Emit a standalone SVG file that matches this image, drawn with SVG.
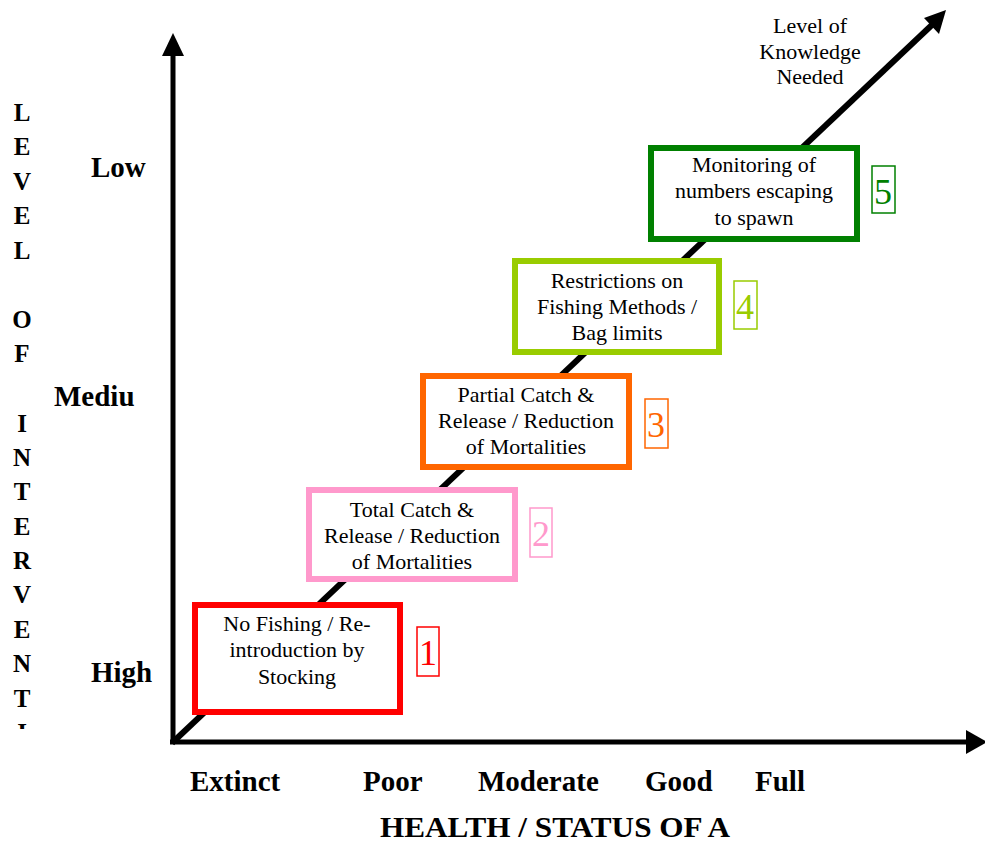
<svg xmlns="http://www.w3.org/2000/svg" width="985" height="842" viewBox="0 0 985 842">
  <style>
    .axis { stroke: #000; stroke-width: 5; fill: none; }
    .head { fill: #000; }
    .ylet { font-family: "Liberation Serif", "Times New Roman", serif; font-weight: bold; font-size: 25px; text-anchor: middle; fill: #000; }
    .tick { font-family: "Liberation Serif", "Times New Roman", serif; font-weight: bold; font-size: 29px; fill: #000; }
    .title { font-family: "Liberation Serif", "Times New Roman", serif; font-weight: bold; font-size: 29px; fill: #000; }
    .box { fill: #fff; stroke-width: 6; }
    .lbl { font-family: "Liberation Serif", "Times New Roman", serif; font-size: 22px; text-anchor: middle; fill: #000; }
    .num { font-family: "Liberation Serif", "Times New Roman", serif; font-size: 36px; text-anchor: middle; }
    .numbox { fill: none; stroke-width: 1.5; }
  </style>
  <defs>
    <clipPath id="yclip">
      <rect x="0" y="0" width="60" height="729"/>
    </clipPath>
  </defs>

  <!-- vertical axis title, one letter per line -->
  <g id="y-title" clip-path="url(#yclip)">
    <text class="ylet" x="22" y="121">L</text>
    <text class="ylet" x="22" y="155">E</text>
    <text class="ylet" x="22" y="190">V</text>
    <text class="ylet" x="22" y="224">E</text>
    <text class="ylet" x="22" y="259">L</text>
    <text class="ylet" x="22" y="328">O</text>
    <text class="ylet" x="22" y="362">F</text>
    <text class="ylet" x="22" y="432">I</text>
    <text class="ylet" x="22" y="466">N</text>
    <text class="ylet" x="22" y="500">T</text>
    <text class="ylet" x="22" y="535">E</text>
    <text class="ylet" x="22" y="569">R</text>
    <text class="ylet" x="22" y="603">V</text>
    <text class="ylet" x="22" y="638">E</text>
    <text class="ylet" x="22" y="672">N</text>
    <text class="ylet" x="22" y="707">T</text>
    <text class="ylet" x="22" y="741">I</text>
  </g>

  <!-- vertical axis levels -->
  <g id="y-ticks">
    <text class="tick" x="91" y="177">Low</text>
    <text class="tick" x="54" y="406">Mediu</text>
    <text class="tick" x="91" y="682">High</text>
  </g>

  <!-- horizontal axis levels and title -->
  <g id="x-ticks">
    <text class="tick" x="190" y="791">Extinct</text>
    <text class="tick" x="363" y="791">Poor</text>
    <text class="tick" x="478" y="791">Moderate</text>
    <text class="tick" x="645" y="791">Good</text>
    <text class="tick" x="755" y="791">Full</text>
    <text class="title" x="380" y="837" textLength="350" lengthAdjust="spacingAndGlyphs">HEALTH / STATUS OF A</text>
  </g>

  <!-- axes and the diagonal knowledge arrow -->
  <g id="connectors">
    <line class="axis" x1="173" y1="744" x2="173" y2="52"/>
    <polygon class="head" points="173,33 162,56 184,56"/>
    <line class="axis" x1="170" y1="742" x2="968" y2="742"/>
    <polygon class="head" points="987,742 966,730 966,754"/>
    <line class="axis" x1="172" y1="743" x2="934" y2="23" style="stroke-width:6"/>
    <polygon class="head" points="946,10 924,18 939,34"/>
  </g>

  <g id="knowledge-label">
    <text class="lbl" x="810" y="33">Level of</text>
    <text class="lbl" x="810" y="59">Knowledge</text>
    <text class="lbl" x="810" y="84">Needed</text>
  </g>

  <!-- step 1 -->
  <g id="step1">
    <rect class="box" x="195" y="605" width="205" height="107" stroke="#FF0000"/>
    <text class="lbl" x="297" y="631">No Fishing / Re-</text>
    <text class="lbl" x="297" y="657">introduction by</text>
    <text class="lbl" x="297" y="684">Stocking</text>
    <rect class="numbox" x="417" y="627" width="22" height="49" stroke="#FF0000"/>
    <text class="num" x="428" y="665" fill="#FF0000">1</text>
  </g>

  <!-- step 2 -->
  <g id="step2">
    <rect class="box" x="309" y="490" width="206" height="89" stroke="#FF99CC"/>
    <text class="lbl" x="412" y="517">Total Catch &amp;</text>
    <text class="lbl" x="412" y="543">Release / Reduction</text>
    <text class="lbl" x="412" y="569">of Mortalities</text>
    <rect class="numbox" x="530" y="508" width="22" height="49" stroke="#FF99CC"/>
    <text class="num" x="541" y="546" fill="#FF99CC">2</text>
  </g>

  <!-- step 3 -->
  <g id="step3">
    <rect class="box" x="423" y="376" width="206" height="91" stroke="#FF6600"/>
    <text class="lbl" x="526" y="402">Partial Catch &amp;</text>
    <text class="lbl" x="526" y="428">Release / Reduction</text>
    <text class="lbl" x="526" y="454">of Mortalities</text>
    <rect class="numbox" x="645" y="399" width="23" height="49" stroke="#FF6600"/>
    <text class="num" x="656" y="437" fill="#FF6600">3</text>
  </g>

  <!-- step 4 -->
  <g id="step4">
    <rect class="box" x="515" y="261" width="204" height="91" stroke="#99CC00"/>
    <text class="lbl" x="617" y="288">Restrictions on</text>
    <text class="lbl" x="617" y="314">Fishing Methods /</text>
    <text class="lbl" x="617" y="340">Bag limits</text>
    <rect class="numbox" x="734" y="281" width="23" height="48" stroke="#99CC00"/>
    <text class="num" x="745" y="319" fill="#99CC00">4</text>
  </g>

  <!-- step 5 -->
  <g id="step5">
    <rect class="box" x="651" y="148" width="206" height="91" stroke="#008000"/>
    <text class="lbl" x="754" y="172">Monitoring of</text>
    <text class="lbl" x="754" y="198">numbers escaping</text>
    <text class="lbl" x="754" y="225">to spawn</text>
    <rect class="numbox" x="872" y="166" width="23" height="47" stroke="#008000"/>
    <text class="num" x="883" y="204" fill="#008000">5</text>
  </g>
</svg>
